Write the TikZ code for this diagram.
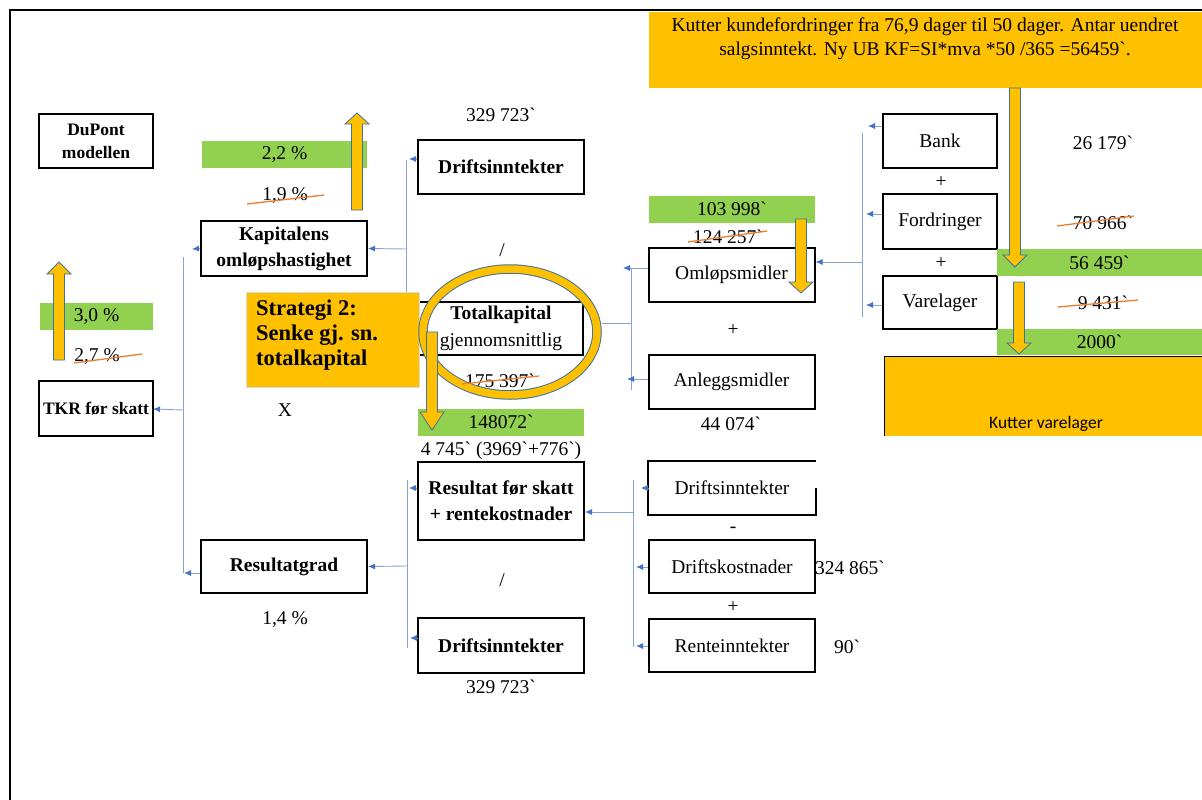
\documentclass[tikz,border=0pt]{standalone}
\usepackage{fontspec}
\setmainfont{Liberation Serif}[Ligatures=TeXOff]
\newfontfamily\calibrifont{Carlito}
\usetikzlibrary{arrows.meta}

\definecolor{gold}{HTML}{FFC000}
\definecolor{leaf}{HTML}{92D050}
\definecolor{rust}{HTML}{ED7D31}
\definecolor{link}{HTML}{4472C4}
\definecolor{rim}{HTML}{41719C}

\newcommand\fntmain{\fontsize{19.5}{26}\selectfont}
\newcommand\fntsmall{\fontsize{17.5}{23}\selectfont}
\newcommand\fntbig{\fontsize{22.5}{25}\selectfont}
\newcommand\fntnote{\fontsize{19.5}{24}\selectfont}
\newcommand\gv{\symbol{96}}
% block arrow: x, tail y, head base y, tip y
\newcommand\fatarrow[4]{%
  \draw[fat] (#1-5.5,#2) -- (#1+5.5,#2) -- (#1+5.5,#3) -- (#1+12,#3) -- (#1,#4)
    -- (#1-12,#3) -- (#1-5.5,#3) -- cycle;}

\tikzset{
  box/.style={draw=black, line width=2pt, fill=white, inner sep=0pt, align=center,
    minimum width=166, minimum height=54, font=\fntmain},
  boldbox/.style={box, font=\fntmain\bfseries},
  txt/.style={inner sep=0pt, font=\fntmain},
  bar/.style={fill=leaf, inner sep=0pt, minimum height=27, font=\fntmain},
  strike/.style={rust, line width=1.3pt},
  conn/.style={link!65, line width=0.9pt},
  tip/.style={conn, -{Latex[length=7pt,width=6pt,color=link]}},
  fat/.style={fill=gold, draw=rim, line width=0.8pt},
}

\begin{document}
\begin{tikzpicture}[x=1pt,y=-1pt]
\useasboundingbox (0,0) rectangle (1202,800);
\fill[white] (0,0) rectangle (1202,800);
\draw[line width=2pt] (10,802) -- (10,10) -- (1204,10);

% note on receivables
\fill[gold] (649,12) rectangle (1202,88);
\node[txt, font=\fntnote, align=center] (note) at (925,39)
  {Kutter kundefordringer fra 76,9 dager til 50 dager. Antar uendret\\
   salgsinntekt. Ny UB KF=SI*mva *50 /365 =56459\gv.};

% ---------- connectors ----------
\coordinate (busL) at (183,410);
\draw[conn] (183,257) -- (183,573);
\draw[tip] (busL) -- (153,409);
\coordinate (busA) at (406,249);
\draw[conn] (406,160) -- (406,300);
\coordinate (busB) at (407,566);
\draw[conn] (407,480) -- (407,648);
\draw[conn] (602,323) -- (631,323);
\draw[conn] (631,268) -- (631,390);
\coordinate (busR) at (862,262);
\draw[conn] (862,133) -- (862,317);
\coordinate (busC) at (633,512);
\draw[conn] (633,480) -- (633,647);

% ---------- left column ----------
\node[boldbox, font=\fntsmall\bfseries, minimum width=114] (dupont) at (96,141) {DuPont\\modellen};
\node[bar, minimum width=113] (g30) at (96.5,316.5) {3,0 \%};
\node[txt] (v27) at (97,357) {2,7 \%};
\node[boldbox, font=\fntsmall\bfseries, minimum width=114, minimum height=55] (tkr) at (96,408.5) {TKR før skatt};

% ---------- second column ----------
\node[bar, minimum width=165] (g22) at (284.5,154.5) {2,2 \%};
\node[txt] (v19) at (285,196) {1,9 \%};
\node[boldbox, minimum height=55] (kap) at (284,248.5) {Kapitalens\\omløpshastighet};
\node[txt] (times) at (285,410) {X};
\node[boldbox, minimum height=53] (resgrad) at (284,566.5) {Resultatgrad};
\node[txt] (v14) at (285,620) {1,4 \%};

% ---------- third column ----------
\node[txt] (v329a) at (501,115) {329 723\gv};
\node[boldbox] (drift1) at (501,167) {Driftsinntekter};
\node[txt] (div1) at (502,250) {/};
\node[box, minimum width=164, minimum height=53, font=\fontsize{19.5}{27}\selectfont] (total) at (501,328.5)
  {\textbf{Totalkapital}\\gjennomsnittlig};
\node[txt] (v175) at (500,381) {175 397\gv};
\node[bar, minimum width=166] (g148) at (501,422) {148072\gv};
\node[txt] (v4745) at (501,451) {4 745\gv{} (3969\gv+776\gv)};
\node[boldbox, minimum height=78] (resultat) at (501,501) {Resultat før skatt\\+ rentekostnader};
\node[txt] (div2) at (502,580) {/};
\node[boldbox, minimum height=55] (drift3) at (501,645.5) {Driftsinntekter};
\node[txt] (v329b) at (501,687) {329 723\gv};

% ---------- fourth column ----------
\node[bar, minimum width=166] (g104) at (732,209) {103 998\gv};
\node[txt] (v124) at (728,237) {124 257\gv};
\node[box] (omlop) at (731.5,275) {Omløpsmidler};
\node[txt] (plus1) at (733,330) {+};
\node[box] (anlegg) at (731.5,382) {Anleggsmidler};
\node[txt] (v44) at (731,424) {44 074\gv};

\node[box, draw=none, minimum height=52] (drift2) at (732,488) {Driftsinntekter};
\draw[line width=2pt] (drift2.north east) -- (drift2.north west) -- (drift2.south west)
  -- (drift2.south east) -- ++(0,-27);
\node[txt] (minus) at (733,530) {-};
\node[box, minimum height=53] (kost) at (732,566.5) {Driftskostnader};
\node[txt] (plus4) at (733,607) {+};
\node[box, minimum height=53] (rente) at (732,645.5) {Renteinntekter};
\node[txt] (v324) at (850,568) {324 865\gv};
\node[txt] (v90) at (847,647) {90\gv};

% ---------- current assets breakdown ----------
\node[box, minimum width=114] (bank) at (940,141) {Bank};
\node[txt] (plus2) at (941,182) {+};
\node[box, minimum width=114, minimum height=55] (ford) at (940,221.5) {Fordringer};
\node[txt] (plus3) at (941,263) {+};
\node[box, minimum width=114, minimum height=53] (vare) at (940,302.5) {Varelager};
\node[txt] (v26) at (1103,143) {26 179\gv};
\node[txt] (v70) at (1103,223) {70 966\gv};
\node[bar, minimum width=205] (g56) at (1099.5,262.5) {56 459\gv};
\node[txt] (v94) at (1103,303) {9 431\gv};
\node[bar, minimum width=205, minimum height=26] (g2000) at (1099.5,342) {2000\gv};

% inventory cut
\fill[gold] (884,356) rectangle (1202,436);
\draw[line width=0.8pt] (884,436) -- (884,356) -- (1203,356);
\node[inner sep=0pt, font=\calibrifont\fontsize{17.5}{20}\selectfont] (kv) at (1046,424) {Kutter varelager};

% ---------- arrow stubs ----------
\draw[tip] (kap.west) -- (192,249);
\draw[tip] (resgrad.west |- 0,573) -- (184,573);
\draw[tip] (busA) -- (kap.east);
\draw[tip] (drift1.west |- 0,159) -- (409,159);
\draw[tip] (resultat.west |- 0,488) -- (409,488);
\draw[tip] (drift3.west |- 0,638) -- (410,638);
\draw[tip] (busB) -- (resgrad.east);
\draw[tip] (omlop.west |- 0,268) -- (623,268);
\draw[tip] (anlegg.west |- 0,379) -- (627,379);
\draw[tip] (bank.west |- 0,126) -- (868,126);
\draw[tip] (ford.west |- 0,214) -- (866,214);
\draw[tip] (vare.west |- 0,305) -- (866,305);
\draw[tip] (busR) -- (omlop.east |- busR);
\draw[tip] (drift2.west) -- (641,488);
\draw[tip] (kost.west |- 0,567) -- (636,567);
\draw[tip] (rente.west |- 0,646) -- (636,646);
\draw[tip] (busC) -- (resultat.east |- busC);

% strategy label
\path[fill=gold, draw=black!15, line width=0.6pt] (246,292) rectangle (419,387);
\node[anchor=west, align=left, inner sep=0pt, font=\fntbig\bfseries] (strat) at (256,335)
  {Strategi 2:\\Senke gj. sn.\\totalkapital};

% highlight ring around total capital
\draw[rim, line width=9.5pt] (510,332) ellipse [x radius=87, y radius=63];
\draw[gold, line width=7.5pt] (510,332) ellipse [x radius=87, y radius=63];

% struck-out old values
\draw[strike] (247,204) -- (324,195);
\draw[strike] (74,363) -- (142,354);
\draw[strike] (462,384) -- (539,376);
\draw[strike] (688,242) -- (767,231);
\draw[strike] (1057,226) -- (1134,216);
\draw[strike] (1058,307) -- (1138,300);

% block arrows
\fatarrow{357}{210}{124}{113}
\fatarrow{59}{360}{274}{262}
\fatarrow{432}{332}{412}{430}
\fatarrow{801}{219}{282}{293}
\fatarrow{1015}{88}{255}{267}
\fatarrow{1019}{282}{343}{354}
\end{tikzpicture}
\end{document}
